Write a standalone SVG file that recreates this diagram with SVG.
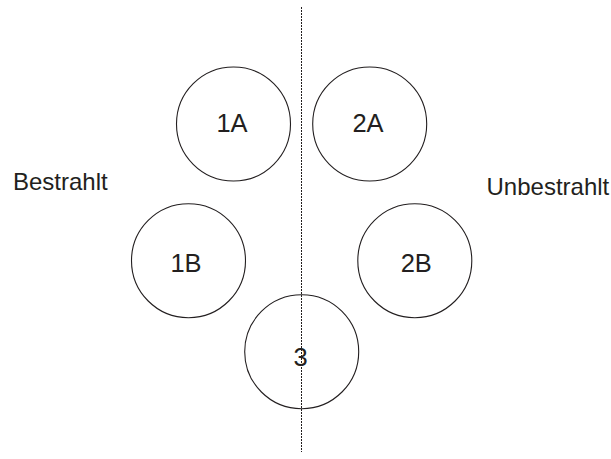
<svg xmlns="http://www.w3.org/2000/svg" width="611" height="459" viewBox="0 0 611 459">
<style>
.c{fill:none;stroke:#231f20;stroke-width:1.1}
.t{font-family:"Liberation Sans",Arial,sans-serif;font-size:24px;fill:#231f20}
.m{text-anchor:middle;font-size:25.5px}
</style>
<rect width="611" height="459" fill="#fff"/>
<g id="axis"><line x1="301.5" y1="7" x2="301.5" y2="452" stroke="#231f20" stroke-width="1" stroke-dasharray="2,1"/></g>
<g id="n1A"><circle class="c" cx="233.5" cy="124" r="57"/><text class="t m" x="232" y="131.5">1A</text></g>
<g id="n2A"><circle class="c" cx="369.7" cy="124" r="57"/><text class="t m" x="368" y="131.5">2A</text></g>
<g id="n1B"><circle class="c" cx="188.5" cy="260.7" r="57"/><text class="t m" x="186" y="271.5">1B</text></g>
<g id="n2B"><circle class="c" cx="414.8" cy="260.7" r="57"/><text class="t m" x="416.3" y="271.5">2B</text></g>
<g id="n3"><circle class="c" cx="301.7" cy="351.7" r="57"/><text class="t m" x="300.5" y="365.5">3</text></g>
<g id="lblL"><text class="t" x="13" y="190">Bestrahlt</text></g>
<g id="lblR"><text class="t" x="486.5" y="195">Unbestrahlt</text></g>
</svg>
